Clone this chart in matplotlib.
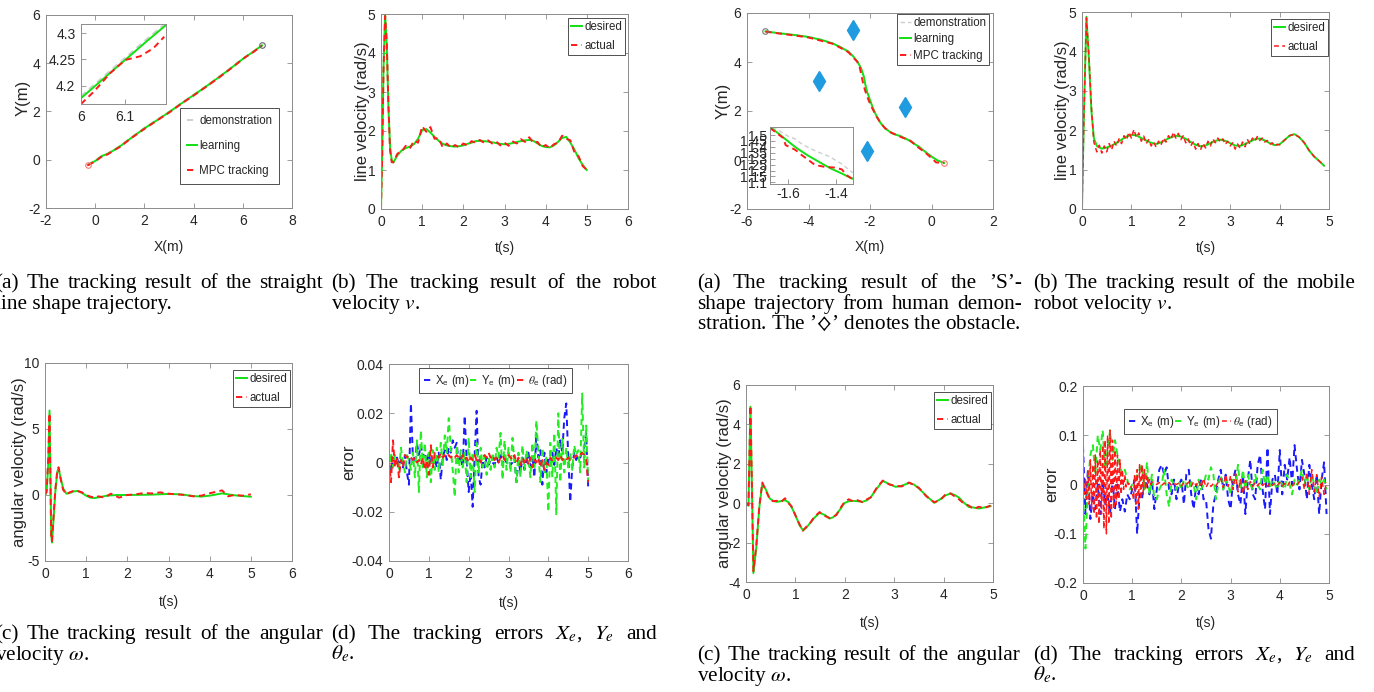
import numpy as np
import matplotlib
matplotlib.use('Agg')
import matplotlib.pyplot as plt
from matplotlib import font_manager

# ---- fonts -------------------------------------------------------------
names = {f.name for f in font_manager.fontManager.ttflist}
NARROW = 'Liberation Sans Narrow' in names
SANS = 'Liberation Sans Narrow' if NARROW else 'Liberation Sans'
TICK_FS = 12 if NARROW else 10
LEG_FS = 9.7 if NARROW else 8.3
XLAB_FS = 12 if NARROW else 10
YLAB_FS = 12
SERIF = ['Liberation Serif', 'DejaVu Serif']
CAP_FS = 15.3

plt.rcParams['font.family'] = [SANS, 'DejaVu Sans']
plt.rcParams['mathtext.fontset'] = 'stix'
plt.rcParams['axes.unicode_minus'] = False

GREEN = '#12e012'
RED = '#ff1a1a'
BLUE = '#1a1aff'
GREY = '#cfcfcf'
OBST = '#1f9be0'

# ---- data: straight line (left a) --------------------------------------
line_x = [-0.3, 0.0, 0.3, 0.5, 0.8, 1.0, 1.5, 2.0, 2.5, 3.0, 3.5, 4.0, 4.5, 5.0, 5.5, 6.0, 6.1, 6.4, 6.78]
line_learn = [-0.22, -0.05, 0.17, 0.24, 0.42, 0.55, 0.93, 1.3, 1.63, 1.97, 2.33, 2.68, 3.03, 3.4, 3.78, 4.18, 4.25, 4.46, 4.74]
line_demo = [-0.2, -0.03, 0.19, 0.26, 0.44, 0.57, 0.95, 1.32, 1.65, 1.99, 2.35, 2.7, 3.05, 3.42, 3.8, 4.19, 4.26, 4.47, 4.75]
line_track = [-0.23, -0.07, 0.16, 0.22, 0.41, 0.53, 0.92, 1.28, 1.62, 1.95, 2.32, 2.66, 3.02, 3.38, 3.77, 4.17, 4.25, 4.44, 4.73]
zoom1_x = [6.0, 6.05, 6.1, 6.15, 6.193]
zoom1_learn = [4.177, 4.213, 4.249, 4.285, 4.315]
zoom1_demo = [4.181, 4.217, 4.253, 4.289, 4.319]
zoom1_tx = [6.0, 6.03, 6.066, 6.1, 6.134, 6.164, 6.189]
zoom1_ty = [4.166, 4.19, 4.224, 4.249, 4.256, 4.271, 4.293]

# ---- data: line velocity (left b) --------------------------------------
t_v1 = np.concatenate([[0, 0.03, 0.06, 0.1, 0.14, 0.18, 0.22, 0.26], np.round(np.arange(0.3, 5.001, 0.1), 2)])
des_v1 = [0, 1.5, 3.6, 5.0, 4.2, 2.6, 1.6, 1.25,
          1.19, 1.38, 1.5, 1.56, 1.6, 1.66, 1.8, 2.02, 2.05, 1.96,
          1.85, 1.75, 1.67, 1.63, 1.61, 1.6, 1.61, 1.63, 1.67, 1.7,
          1.74, 1.75, 1.74, 1.73, 1.71, 1.69, 1.67, 1.66, 1.67, 1.69,
          1.72, 1.74, 1.76, 1.77, 1.75, 1.68, 1.62, 1.59, 1.58, 1.63,
          1.72, 1.82, 1.85, 1.7, 1.52, 1.3, 1.13, 1.0]
act_v1 = [0, 1.4, 3.5, 4.95, 4.3, 2.7, 1.5, 1.2,
          1.2, 1.42, 1.47, 1.62, 1.55, 1.75, 1.7, 2.12, 1.98, 2.1,
          1.8, 1.82, 1.58, 1.68, 1.57, 1.64, 1.58, 1.68, 1.63, 1.74,
          1.7, 1.77, 1.7, 1.76, 1.68, 1.73, 1.63, 1.7, 1.62, 1.73,
          1.68, 1.79, 1.72, 1.84, 1.7, 1.72, 1.58, 1.64, 1.56, 1.66,
          1.7, 1.88, 1.8, 1.76, 1.45, 1.35, 1.1, 1.0]

# ---- data: angular velocity (left c) -----------------------------------
t_w1 = [0, 0.04, 0.08, 0.11, 0.13, 0.15, 0.17, 0.2, 0.25, 0.3,
        0.33, 0.38, 0.44, 0.52, 0.6, 0.7, 0.8, 0.9, 1.0, 1.1,
        1.2, 1.35, 1.5, 1.75, 2.0, 2.5, 3.0, 3.3, 3.6, 3.8,
        4.0, 4.3, 4.6, 4.8, 5.0]
des_w1 = [0, 0.2, 2.5, 6.4, 2.0, -3.0, -3.6, -2.2, 0.2, 1.8,
          2.0, 1.3, 0.5, 0.1, 0.15, 0.28, 0.3, 0.15, -0.05, -0.2,
          -0.23, -0.15, -0.05, 0.0, 0.0, 0.02, 0.08, 0.05, -0.08, -0.12,
          -0.05, 0.12, -0.02, -0.08, -0.13]
ta_w1 = [0, 0.04, 0.08, 0.11, 0.13, 0.15, 0.17, 0.2, 0.25, 0.3,
         0.33, 0.38, 0.44, 0.52, 0.6, 0.7, 0.8, 0.9, 1.0, 1.1,
         1.2, 1.3, 1.45, 1.6, 1.8, 2.0, 2.2, 2.4, 2.6, 2.8,
         3.0, 3.2, 3.4, 3.6, 3.8, 3.95, 4.1, 4.3, 4.45, 4.6,
         4.8, 5.0]
act_w1 = [0, 0.3, 2.9, 6.2, 1.6, -3.2, -3.5, -2.0, 0.4, 1.9,
          2.1, 1.2, 0.4, 0.05, 0.2, 0.32, 0.3, 0.2, 0.0, -0.12,
          -0.2, -0.1, -0.2, 0.1, -0.2, 0.0, 0.05, 0.15, 0.12, 0.2,
          0.1, 0.05, 0.0, -0.1, -0.05, 0.1, 0.2, 0.35, -0.1, 0.0,
          -0.05, 0.05]

# ---- data: tracking errors (left d), sampled every 0.05 s ----------------
t_e1 = np.round(np.arange(0, 5.001, 0.05), 2)
xe1 = [0.003, -0.004, 0.002, 0.000, 0.002, -0.001, 0.001, -0.002, 0.003, -0.004,
       -0.009, 0.024, 0.002, 0.001, 0.008, 0.003, 0.007, 0.002, 0.004, 0.000,
       0.004, -0.001, 0.002, 0.001, -0.002, 0.004, -0.007, 0.002, 0.005, 0.001,
       0.006, 0.004, 0.009, 0.006, 0.008, -0.001, 0.003, -0.002, 0.019, 0.001,
       -0.012, -0.004, -0.018, 0.003, 0.021, -0.006, -0.009, 0.001, -0.002, 0.002,
       -0.001, 0.001, 0.000, -0.001, 0.002, 0.000, 0.003, -0.001, 0.002, 0.000,
       0.001, -0.001, 0.000, 0.002, -0.008, 0.001, -0.004, 0.002, -0.003, 0.001,
       0.004, -0.002, 0.003, -0.006, 0.012, 0.002, 0.005, -0.009, 0.004, -0.004,
       0.002, -0.002, 0.004, -0.001, 0.006, 0.002, 0.009, 0.004, 0.018, 0.024,
       0.002, -0.016, -0.002, 0.004, 0.001, 0.003, 0.002, 0.004, 0.006, 0.012,
       -0.010]
ye1 = [-0.004, 0.004, -0.002, 0.003, 0.001, -0.003, 0.006, 0.000, -0.004, 0.003,
       0.001, -0.003, 0.004, -0.006, 0.009, -0.012, 0.013, -0.002, 0.008, -0.006,
       0.004, -0.008, 0.005, -0.003, 0.006, -0.004, 0.008, -0.001, 0.011, 0.004,
       0.018, 0.006, -0.003, -0.014, 0.007, -0.004, 0.005, -0.002, 0.004, -0.008,
       0.010, -0.006, 0.004, -0.012, 0.008, -0.004, 0.006, -0.002, 0.003, -0.005,
       0.002, -0.003, 0.004, -0.002, 0.006, 0.002, 0.012, -0.007, 0.009, -0.003,
       0.006, -0.004, 0.010, 0.000, -0.008, 0.004, -0.006, 0.007, -0.003, 0.005,
       0.001, -0.006, 0.008, -0.002, 0.017, 0.004, -0.008, 0.006, -0.004, 0.002,
       -0.020, 0.008, -0.006, 0.012, -0.021, 0.020, -0.008, 0.010, -0.004, 0.006,
       -0.002, 0.004, -0.003, 0.007, 0.003, 0.005, -0.004, 0.028, -0.002, 0.015,
       -0.008]
th1 = [0.001, -0.008, 0.009, -0.002, 0.002, -0.006, 0.001, -0.002, 0.003, 0.002,
       0.003, 0.002, 0.001, 0.002, 0.000, 0.001, -0.001, 0.002, -0.003, 0.001,
       -0.005, 0.007, -0.002, 0.004, 0.003, 0.002, 0.004, 0.002, 0.003, 0.002,
       0.003, 0.002, 0.003, 0.002, 0.003, 0.002, 0.001, 0.003, 0.001, 0.002,
       0.000, 0.002, 0.001, 0.003, 0.001, 0.002, 0.000, 0.002, 0.003, 0.002,
       0.004, 0.002, 0.003, 0.001, 0.002, 0.000, 0.002, 0.003, 0.001, 0.003,
       0.003, 0.002, 0.001, 0.003, 0.000, 0.002, -0.001, 0.002, 0.000, 0.002,
       -0.001, 0.002, -0.002, 0.001, 0.000, 0.002, -0.002, 0.001, -0.003, 0.000,
       -0.001, 0.002, 0.001, 0.002, 0.002, 0.001, 0.003, 0.001, 0.002, 0.001,
       0.002, 0.001, 0.002, 0.002, 0.003, 0.002, 0.003, 0.004, 0.003, 0.001,
       -0.008]

# ---- data: S-shape (right a) --------------------------------------------
s_x = [-5.4, -5.0, -4.44, -4.0, -3.57, -3.2, -2.92, -2.7, -2.54, -2.4, -2.29, -2.2, -2.16, -2.1,
       -2.0, -1.9, -1.78, -1.65, -1.51, -1.3, -0.97, -0.7, -0.42, -0.2, 0.01, 0.2, 0.41]
s_learn = [5.25, 5.18, 5.1, 5.02, 4.9, 4.75, 4.58, 4.42, 4.22, 4.0, 3.74, 3.4, 3.13, 2.8,
           2.45, 2.1, 1.77, 1.5, 1.29, 1.1, 0.95, 0.78, 0.55, 0.33, 0.13, -0.02, -0.12]
s_demo = [5.26, 5.19, 5.11, 5.03, 4.92, 4.77, 4.6, 4.44, 4.24, 4.02, 3.76, 3.42, 3.15, 2.82,
          2.47, 2.12, 1.8, 1.53, 1.32, 1.13, 0.98, 0.81, 0.58, 0.36, 0.15, 0.0, -0.11]
s_tx = [-5.4, -5.0, -4.44, -4.0, -3.57, -3.2, -2.92, -2.7, -2.56, -2.42, -2.33, -2.27, -2.22, -2.15,
        -2.05, -1.93, -1.8, -1.66, -1.52, -1.3, -0.98, -0.7, -0.44, -0.2, 0.0, 0.15, 0.41]
s_ty = [5.24, 5.17, 5.08, 5.0, 4.86, 4.74, 4.55, 4.4, 4.2, 4.02, 3.76, 3.4, 3.1, 2.8,
        2.45, 2.12, 1.8, 1.52, 1.31, 1.11, 0.93, 0.8, 0.52, 0.3, 0.08, -0.1, -0.12]
obst_x = [-2.54, -3.66, -0.86, -2.09]
obst_y = [5.31, 3.22, 2.18, 0.37]
zoom3_lx = [-1.675, -1.62, -1.571, -1.52, -1.46, -1.42, -1.377, -1.337, -1.33]
zoom3_ly = [1.57, 1.48, 1.40, 1.33, 1.26, 1.215, 1.175, 1.135, 1.13]
zoom3_dx = [-1.665, -1.6, -1.571, -1.54, -1.48, -1.43, -1.38, -1.33]
zoom3_dy = [1.57, 1.49, 1.468, 1.42, 1.36, 1.32, 1.26, 1.18]
zoom3_tx = [-1.675, -1.62, -1.61, -1.57, -1.543, -1.516, -1.488, -1.446, -1.404, -1.377, -1.356, -1.33]
zoom3_ty = [1.56, 1.475, 1.415, 1.375, 1.33, 1.29, 1.247, 1.23, 1.225, 1.21, 1.16, 1.125]

# ---- data: line velocity (right b) -------------------------------------
t_v2 = np.concatenate([[0, 0.04, 0.09, 0.14, 0.19, 0.24], np.round(np.arange(0.3, 4.901, 0.1), 2)])
des_v2 = [0, 2.5, 4.88, 3.8, 2.5, 1.8,
          1.6, 1.53, 1.56, 1.61, 1.68, 1.76, 1.84, 1.88, 1.87, 1.8,
          1.74, 1.68, 1.65, 1.69, 1.76, 1.82, 1.86, 1.84, 1.78, 1.7,
          1.63, 1.59, 1.61, 1.67, 1.73, 1.76, 1.73, 1.67, 1.61, 1.6,
          1.65, 1.71, 1.77, 1.79, 1.74, 1.67, 1.62, 1.64, 1.75, 1.86,
          1.9, 1.82, 1.68, 1.48, 1.33, 1.22, 1.1]
ta_v2 = np.concatenate([[0, 0.04, 0.09, 0.14, 0.19, 0.24], np.round(np.arange(0.3, 4.001, 0.05), 2),
                        np.round(np.arange(4.1, 4.901, 0.1), 2)])
act_v2 = [0, 2.4, 4.85, 3.9, 2.6, 1.7,
          1.45, 1.62, 1.42, 1.6, 1.45, 1.66, 1.5, 1.72, 1.6, 1.78,
          1.66, 1.86, 1.75, 1.95, 1.8, 2.02, 1.82, 1.93, 1.72, 1.85,
          1.66, 1.76, 1.6, 1.7, 1.57, 1.72, 1.62, 1.8, 1.7, 1.86,
          1.76, 1.95, 1.8, 1.92, 1.76, 1.86, 1.68, 1.78, 1.6, 1.7,
          1.52, 1.66, 1.5, 1.67, 1.55, 1.72, 1.6, 1.78, 1.68, 1.8,
          1.7, 1.78, 1.64, 1.72, 1.6, 1.68, 1.52, 1.65, 1.54, 1.7,
          1.58, 1.76, 1.65, 1.8, 1.72, 1.84, 1.74, 1.8, 1.7, 1.74,
          1.64, 1.68, 1.6, 1.64, 1.63,
          1.75, 1.86, 1.9, 1.82, 1.68, 1.48, 1.33, 1.22, 1.1]

# ---- data: angular velocity (right c) ----------------------------------
t_w2 = [0, 0.05, 0.09, 0.12, 0.15, 0.21, 0.27, 0.33, 0.4, 0.48,
        0.55, 0.62, 0.7, 0.79, 0.86, 0.92, 1.0, 1.08, 1.15, 1.22,
        1.29, 1.38, 1.49, 1.6, 1.69, 1.76, 1.83, 1.91, 1.99, 2.08,
        2.16, 2.26, 2.36, 2.45, 2.53, 2.65, 2.77, 2.9, 3.03, 3.15,
        3.3, 3.4, 3.5, 3.65, 3.81, 3.93, 4.04, 4.14, 4.22, 4.31,
        4.4, 4.51, 4.61, 4.71, 4.82, 4.95]
des_w2 = [0, -0.13, 4.9, 0.8, -3.55, -2.2, -0.2, 1.0, 0.7, 0.24,
          0.12, 0.07, 0.1, 0.15, 0.05, -0.19, -0.6, -1.1, -1.37, -1.25,
          -1.03, -0.75, -0.49, -0.6, -0.78, -0.72, -0.56, -0.3, 0.0, 0.1,
          0.12, 0.1, 0.07, 0.15, 0.32, 0.75, 1.13, 0.97, 0.83, 0.88,
          1.03, 0.95, 0.75, 0.38, 0.02, 0.2, 0.4, 0.49, 0.42, 0.29,
          0.05, -0.19, -0.22, -0.27, -0.22, -0.15]
act_w2 = [0, -0.1, 4.95, 0.9, -3.45, -2.1, -0.15, 1.05, 0.65, 0.2,
          0.1, 0.12, 0.05, 0.25, 0.0, -0.15, -0.62, -1.05, -1.4, -1.2,
          -1.05, -0.7, -0.45, -0.65, -0.75, -0.7, -0.6, -0.25, 0.05, 0.2,
          0.1, 0.15, 0.05, 0.2, 0.3, 0.8, 1.15, 0.95, 0.88, 0.85,
          1.05, 0.92, 0.78, 0.35, 0.05, 0.15, 0.45, 0.5, 0.35, 0.2,
          0.0, -0.12, -0.3, -0.18, -0.25, -0.12]

# ---- data: tracking errors (right d) ------------------------------------
t_e2 = np.round(np.arange(0, 4.951, 0.05), 2)
xe2 = [0.078, -0.06, 0.03, -0.07, -0.02, -0.05, 0.0, -0.06, 0.01, -0.04,
       -0.02, -0.06, 0.01, -0.05, 0.0, -0.055, -0.03, -0.055, -0.02, -0.03,
       -0.01, 0.01, -0.10, -0.02, -0.03, 0.02, 0.0, -0.02, 0.01, -0.05,
       -0.01, 0.03, 0.04, 0.02, 0.035, -0.01, -0.02, 0.01, -0.03, 0.0,
       0.01, -0.04, 0.02, 0.03, -0.02, -0.05, 0.0, -0.02, 0.01, -0.03,
       -0.03, -0.09, -0.11, -0.04, -0.02, 0.01, 0.03, -0.01, 0.02, -0.03,
       -0.05, 0.01, 0.03, -0.02, -0.04, 0.02, -0.06, 0.01, 0.05, -0.02,
       -0.03, 0.04, 0.06, -0.01, -0.05, 0.075, -0.06, 0.01, 0.02, -0.02,
       0.07, -0.02, 0.04, 0.01, 0.055, 0.0, 0.08, 0.03, -0.01, 0.05,
       0.02, -0.03, 0.04, 0.0, -0.03, 0.02, -0.06, 0.01, 0.045, -0.06]
ye2 = [-0.02, -0.13, 0.0, 0.06, 0.08, 0.02, 0.10, 0.07, 0.11, 0.03,
       0.07, 0.11, 0.05, 0.09, 0.06, 0.04, 0.02, 0.03, 0.01, -0.01,
       0.0, 0.01, 0.02, 0.03, 0.04, -0.01, 0.045, -0.02, 0.02, -0.03,
       -0.03, -0.01, 0.0, 0.03, -0.02, -0.045, 0.01, 0.0, -0.01, 0.005,
       -0.01, 0.01, 0.0, -0.01, 0.005, 0.0, -0.03, 0.01, -0.01, 0.0,
       0.02, 0.01, 0.035, 0.02, -0.03, 0.0, 0.02, -0.01, 0.01, 0.0,
       -0.02, 0.01, 0.0, 0.04, -0.01, 0.03, -0.01, 0.02, 0.0, -0.01,
       0.02, 0.0, -0.01, 0.03, 0.0, 0.02, -0.005, 0.01, 0.0, -0.01,
       0.01, 0.0, -0.01, 0.02, 0.0, -0.02, 0.01, 0.0, 0.01, 0.03,
       0.0, 0.02, -0.01, 0.02, 0.0, -0.02, 0.01, 0.0, 0.01, -0.01]
t_th2 = np.concatenate([np.round(np.arange(0, 1.4001, 0.025), 3), np.round(np.arange(1.45, 4.951, 0.05), 2)])
th2 = [0.00, -0.02, 0.01, -0.03, 0.03, -0.04, 0.05, -0.05, 0.04, -0.06,
       0.06, -0.07, 0.05, -0.08, 0.07, -0.06, 0.08, -0.09, 0.09, -0.10,
       0.10, -0.08, 0.11, -0.07, 0.09, -0.05, 0.07, -0.04, 0.06, -0.03,
       0.05, -0.02, 0.03, -0.01, 0.02, -0.005, 0.005, 0.000, 0.003, -0.005,
       -0.01, -0.03, 0.02, -0.04, 0.03, -0.05, 0.04, -0.03, 0.04, -0.02,
       0.03, -0.01, 0.02, 0.00, 0.01, 0.00, 0.005,
       0.003, 0.0, 0.004, -0.002, 0.003, 0.0, 0.004, -0.002, 0.002, 0.0,
       0.003, -0.003, 0.004, 0.0, 0.005, -0.004, 0.006, -0.002, 0.008, -0.005,
       0.012, -0.006, 0.004, -0.004, 0.002, -0.003, 0.005, 0.012, -0.006, 0.02,
       -0.004, 0.018, -0.01, 0.022, -0.015, 0.01, -0.018, 0.008, -0.01, 0.006,
       -0.004, 0.004, -0.003, 0.005, -0.002, 0.003, -0.004, 0.004, -0.002, 0.003,
       -0.002, 0.004, -0.003, 0.002, -0.004, 0.005, -0.003, 0.003, -0.002, 0.006,
       0.015, -0.01, 0.025, -0.02, 0.03, -0.015, 0.02, -0.025, 0.015, -0.02,
       0.005]

err_labels = [r'X$_\mathregular{e}$ (m)', r'Y$_\mathregular{e}$ (m)', r'$\theta_\mathregular{e}$ (rad)']

# ---- figure ------------------------------------------------------------
W, H = 1374, 692
fig = plt.figure(figsize=(W / 100, H / 100), dpi=100)


def make_ax(l, t, r, b, xlim, ylim, xticks, yticks, xfmt=None, yfmt=None):
    ax = fig.add_axes([l / W, 1 - b / H, (r - l) / W, (b - t) / H])
    for s in ax.spines.values():
        s.set_color('#8c8c8c')
        s.set_linewidth(0.7)
    ax.tick_params(direction='in', length=3.5, width=0.6, color='#8c8c8c', labelcolor='#262626',
                   labelsize=TICK_FS, pad=4, top=True, right=True)
    ax.set_xlim(xlim)
    ax.set_ylim(ylim)
    ax.set_xticks(xticks)
    ax.set_yticks(yticks)
    ax.set_xticklabels(xfmt if xfmt else ['%g' % v for v in xticks])
    ax.set_yticklabels(yfmt if yfmt else ['%g' % v for v in yticks])
    ax.box = (l, t, r, b)
    return ax


def labels(ax, xlabel, ylabel, xl_y, yl_x, yl_frac=0.5):
    l, t, r, b = ax.box
    ax.set_xlabel(xlabel, fontsize=XLAB_FS, color='#262626', va='center')
    ax.set_ylabel(ylabel, fontsize=YLAB_FS, color='#262626', va='center', family=['Liberation Sans'])
    ax.xaxis.set_label_coords(0.5, (b - xl_y) / (b - t))
    ax.yaxis.set_label_coords((yl_x - l) / (r - l), yl_frac)


def legend(ax, left, top, spacing=0.5, hl=1.0, ncol=1, pad=0.25):
    leg = ax.legend(loc='upper left', bbox_to_anchor=(left / W, 1 - top / H), bbox_transform=fig.transFigure,
                    borderaxespad=0, ncol=ncol, fancybox=False, framealpha=1, edgecolor='#333333',
                    fontsize=LEG_FS, handlelength=hl, handletextpad=0.15, labelspacing=spacing,
                    borderpad=pad, columnspacing=0.1)
    leg.get_frame().set_linewidth(0.6)
    for tx in leg.get_texts():
        tx.set_color('#262626')
    return leg


LW = 1.4
DASH = (0, (3.2, 2.2))

# left (a): straight line
ax1 = make_ax(46, 15, 292, 208, (-2, 8), (-2, 6), [-2, 0, 2, 4, 6, 8], [-2, 0, 2, 4, 6])
ax1.plot(line_x, line_demo, color=GREY, lw=LW, ls=DASH, label='demonstration')
ax1.plot(line_x, line_learn, color=GREEN, lw=LW, label='learning')
ax1.plot(line_x, line_track, color=RED, lw=LW, ls=DASH, label='MPC tracking')
ax1.plot(line_x[0], line_track[0], 'o', ms=4, mfc='none', mec='#ff7777', mew=0.8)
ax1.plot(line_x[-1], line_learn[-1], 'o', ms=4, mfc='none', mec='#666666', mew=0.8)
labels(ax1, 'X(m)', 'Y(m)', 247, 23, 0.57)
legend(ax1, 180, 108, spacing=1.15, hl=0.9, pad=0.6)
ins1 = make_ax(81, 24, 166, 104, (6.0, 6.193), (4.166, 4.317), [6.0, 6.1], [4.2, 4.25, 4.3], ['6', '6.1'])
ins1.tick_params(top=False, right=False)
ins1.plot(zoom1_x, zoom1_demo, color=GREY, lw=LW, ls=DASH)
ins1.plot(zoom1_x, zoom1_learn, color=GREEN, lw=LW)
ins1.plot(zoom1_tx, zoom1_ty, color=RED, lw=LW, ls=DASH)

# left (b): line velocity
ax2 = make_ax(381, 14, 628, 209, (0, 6), (0, 5), [0, 1, 2, 3, 4, 5, 6], [0, 1, 2, 3, 4, 5])
ax2.plot(t_v1, des_v1, color=GREEN, lw=LW, label='desired')
ax2.plot(t_v1, act_v1, color=RED, lw=LW, ls=DASH, label='actual')
labels(ax2, 't(s)', 'line velocity (rad/s)', 248, 363)
legend(ax2, 568, 18, spacing=0.6)

# left (c): angular velocity
ax5 = make_ax(45, 363, 292, 561, (0, 6), (-5, 10), [0, 1, 2, 3, 4, 5, 6], [-5, 0, 5, 10])
ax5.plot(t_w1, des_w1, color=GREEN, lw=LW, label='desired')
ax5.plot(ta_w1, act_w1, color=RED, lw=LW, ls=DASH, label='actual')
labels(ax5, 't(s)', 'angular velocity (rad/s)', 602, 20)
legend(ax5, 233, 370, spacing=0.6)

# left (d): errors
ax6 = make_ax(389, 364, 628, 561, (0, 6), (-0.04, 0.04), [0, 1, 2, 3, 4, 5, 6],
              [-0.04, -0.02, 0, 0.02, 0.04], yfmt=['-0.04', '-0.02', '0', '0.02', '0.04'])
ax6.plot(t_e1, xe1, color=BLUE, lw=LW, ls=DASH, label=err_labels[0])
ax6.plot(t_e1, ye1, color='#22ee22', lw=LW, ls=DASH, label=err_labels[1])
ax6.plot(t_e1, th1, color=RED, lw=LW, ls=DASH, label=err_labels[2])
labels(ax6, 't(s)', 'error', 603, 349)
legend(ax6, 419, 368, hl=0.8, ncol=3, pad=0.4)

# right (a): S-shape
ax3 = make_ax(747, 13, 993, 209, (-6, 2), (-2, 6), [-6, -4, -2, 0, 2], [-2, 0, 2, 4, 6])
ax3.plot(s_x, s_demo, color=GREY, lw=1.0, ls=DASH, label='demonstration')
ax3.plot(s_x, s_learn, color=GREEN, lw=LW, label='learning')
ax3.plot(s_tx, s_ty, color=RED, lw=LW, ls=DASH, label='MPC tracking')
ax3.plot(s_x[0], s_demo[0], 'o', ms=4, mfc='none', mec='#777777', mew=0.8)
ax3.plot(s_tx[-1], s_ty[-1], 'o', ms=4, mfc='none', mec='#ff7777', mew=0.8)
ax3.plot(obst_x, obst_y, 'd', ms=10, color=OBST, mec=OBST, ls='none')
labels(ax3, 'X(m)', 'Y(m)', 247, 723, 0.55)
legend(ax3, 897, 14, spacing=0.4)
ins3 = make_ax(770, 127, 853, 184, (-1.675, -1.33), (1.086, 1.568), [-1.6, -1.4],
               [1.1, 1.15, 1.2, 1.25, 1.3, 1.35, 1.4, 1.45, 1.5])
ins3.tick_params(top=False, right=False, pad=2)
ins3.plot(zoom3_dx, zoom3_dy, color=GREY, lw=1.0, ls=DASH)
ins3.plot(zoom3_lx, zoom3_ly, color=GREEN, lw=LW)
ins3.plot(zoom3_tx, zoom3_ty, color=RED, lw=LW, ls=DASH)

# right (b): line velocity
ax4 = make_ax(1082, 12, 1329, 209, (0, 5), (0, 5), [0, 1, 2, 3, 4, 5], [0, 1, 2, 3, 4, 5])
ax4.plot(t_v2, des_v2, color=GREEN, lw=LW, label='desired')
ax4.plot(ta_v2, act_v2, color=RED, lw=1.1, ls=DASH, label='actual')
labels(ax4, 't(s)', 'line velocity (rad/s)', 248, 1063)
legend(ax4, 1271, 19, spacing=0.6)

# right (c): angular velocity
ax7 = make_ax(746, 385, 993, 582, (0, 5), (-4, 6), [0, 1, 2, 3, 4, 5], [-4, -2, 0, 2, 4, 6])
ax7.plot(t_w2, des_w2, color=GREEN, lw=LW, label='desired')
ax7.plot(t_w2, act_w2, color=RED, lw=LW, ls=DASH, label='actual')
labels(ax7, 't(s)', 'angular velocity (rad/s)', 623, 724)
legend(ax7, 934, 392, spacing=0.6)

# right (d): errors
ax8 = make_ax(1083, 386, 1329, 583, (0, 5), (-0.2, 0.2), [0, 1, 2, 3, 4, 5],
              [-0.2, -0.1, 0, 0.1, 0.2], yfmt=['-0.2', '-0.1', '0', '0.1', '0.2'])
ax8.plot(t_e2, xe2, color=BLUE, lw=LW, ls=DASH, label=err_labels[0])
ax8.plot(t_e2, ye2, color='#22ee22', lw=LW, ls=DASH, label=err_labels[1])
ax8.plot(t_th2, th2, color=RED, lw=1.1, ls=DASH, label=err_labels[2])
labels(ax8, 't(s)', 'error', 623, 1052)
legend(ax8, 1124, 409, hl=0.8, ncol=3, pad=0.4)

# ---- captions (justified like the paper) --------------------------------
renderer = fig.canvas.get_renderer()


def caption(x0, x1, y0, lines):
    for i, (txt, just) in enumerate(lines):
        y = 1 - (y0 + 20.6 * i) / H
        words = txt.split(' ') if just else [txt]
        ts = [fig.text(0, y, w, fontsize=CAP_FS, family=SERIF, va='baseline', ha='left') for w in words]
        if not just:
            ts[0].set_x(x0 / W)
            continue
        ws = [t.get_window_extent(renderer).width for t in ts]
        gap = (x1 - x0 - sum(ws)) / (len(ws) - 1)
        x = x0
        for t, w in zip(ts, ws):
            t.set_x(x / W)
            x += w + gap


caption(-5, 323, 288, [('(a) The tracking result of the straight', True), ('line shape trajectory.', False)])
caption(331, 657, 288, [('(b) The tracking result of the robot', True), ('velocity $v$.', False)])
caption(-5, 323, 639, [('(c) The tracking result of the angular', True), ('velocity $\\omega$.', False)])
caption(331, 657, 639, [('(d) The tracking errors $X_e$, $Y_e$ and', True), ('$\\theta_e$.', False)])
caption(697, 1022, 288, [('(a) The tracking result of the \u2019S\u2019-', True),
                         ('shape trajectory from human demon-', True),
                         ('stration. The \u2019$\\diamondsuit$\u2019 denotes the obstacle.', False)])
caption(1033, 1355, 288, [('(b) The tracking result of the mobile', True), ('robot velocity $v$.', False)])
caption(697, 1020, 660, [('(c) The tracking result of the angular', True), ('velocity $\\omega$.', False)])
caption(1033, 1355, 660, [('(d) The tracking errors $X_e$, $Y_e$ and', True), ('$\\theta_e$.', False)])

fig.savefig('out.png', dpi=100)
